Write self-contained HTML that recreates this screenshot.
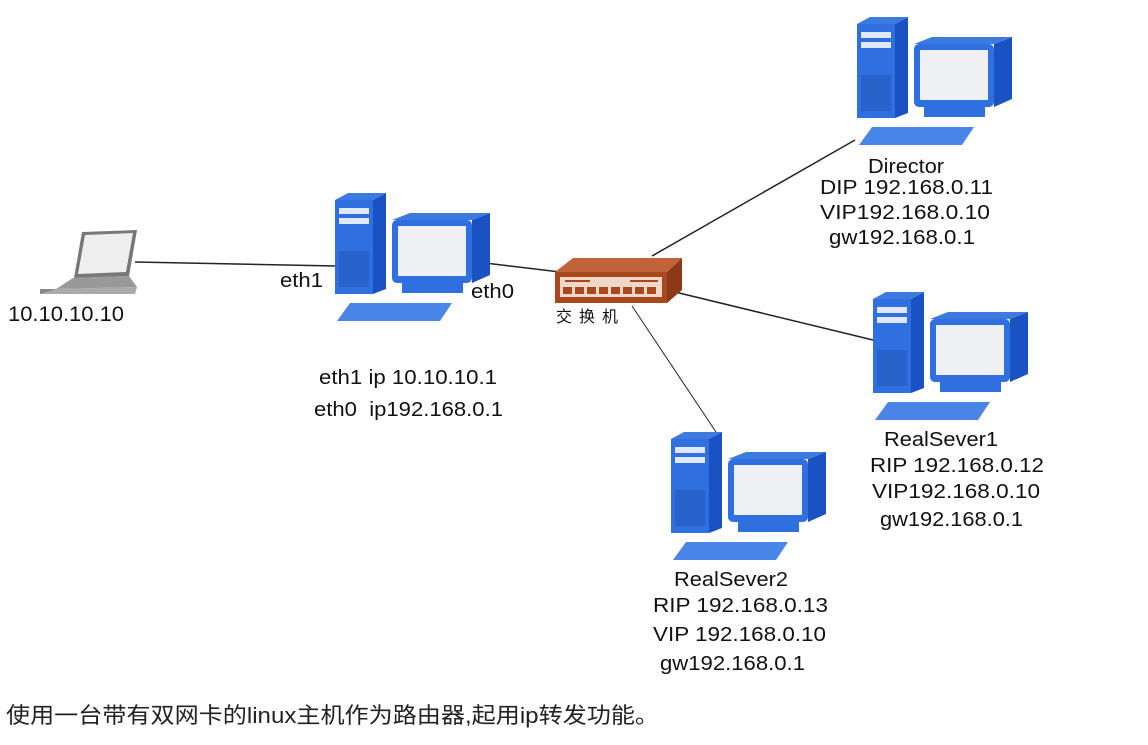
<!DOCTYPE html>
<html><head><meta charset="utf-8"><style>
body{margin:0;background:#fff;width:1148px;height:740px;overflow:hidden}
svg text{font-family:"Liberation Sans","Noto Sans CJK SC",sans-serif;font-size:20px;fill:#111}
</style></head><body>
<svg width="1148" height="740" viewBox="0 0 1148 740">
<defs>
<g id="pc">
  <polygon points="38,7 51,0 51,96 38,101" fill="#1a52c4"/>
  <polygon points="0,7 13,0 51,0 38,7" fill="#3d7ae0"/>
  <rect x="0" y="7" width="38" height="94" fill="#2f6fe0"/>
  <rect x="4" y="15" width="30" height="6" fill="#dfe8f8"/>
  <rect x="4" y="25" width="30" height="6" fill="#dfe8f8"/>
  <rect x="4" y="58" width="30" height="36" fill="#2863cc"/>
  <polygon points="137,27 155,20 155,82 137,90" fill="#1a52c4"/>
  <polygon points="57,27 75,20 155,20 137,27" fill="#3d7ae0"/>
  <rect x="57" y="27" width="80" height="63" rx="5" fill="#2f6fe0"/>
  <rect x="63" y="33" width="68" height="50" fill="#eef0f4"/>
  <rect x="67" y="90" width="61" height="10" fill="#2f6fe0"/>
  <polygon points="15,110 117,110 105,128 2,128" fill="#4a86e8"/>
</g>
</defs>
<g stroke="#222" stroke-width="1.5" fill="none">
<line x1="135" y1="262" x2="336" y2="266"/>
<line x1="485" y1="263" x2="560" y2="272"/>
<line x1="652" y1="256" x2="855" y2="140"/>
<line x1="675" y1="292" x2="873" y2="340"/>
<line x1="632" y1="306" x2="716" y2="432" stroke-width="1"/>
</g>
<polygon points="82,232 137,230 129,276 74,278" fill="#777"/>
<polygon points="85,235 133,233 126,272 78,274" fill="#eee"/>
<polygon points="73,278 129,276 137,287 56,289" fill="#999"/>
<rect x="40" y="289" width="95" height="5" fill="#888"/>
<polygon points="56,289 137,287 135,294 40,294" fill="#aaa"/>
<use href="#pc" x="335" y="193"/>
<use href="#pc" x="857" y="17"/>
<use href="#pc" x="873" y="292"/>
<use href="#pc" x="671" y="432"/>
<polygon points="555,272 573,258 682,258 667,272" fill="#c0623a"/>
<polygon points="667,272 682,258 682,290 667,303" fill="#8a3a18"/>
<rect x="555" y="272" width="112" height="31" fill="#a9481f"/>
<rect x="560" y="277" width="102" height="20" fill="#f0d8c8"/>
<rect x="565" y="280" width="25" height="2" fill="#a9481f"/>
<rect x="630" y="280" width="28" height="2" fill="#a9481f"/>
<g fill="#a9481f">
<rect x="563" y="287" width="9" height="7"/><rect x="575" y="287" width="9" height="7"/><rect x="587" y="287" width="9" height="7"/><rect x="599" y="287" width="9" height="7"/><rect x="611" y="287" width="9" height="7"/><rect x="623" y="287" width="9" height="7"/><rect x="635" y="287" width="9" height="7"/><rect x="647" y="287" width="9" height="7"/>
</g>
<text x="556" y="322" style="font-size:16px" textLength="62" lengthAdjust="spacing">交换机</text>
<text x="8" y="321" style="font-size:21px" textLength="116" lengthAdjust="spacingAndGlyphs">10.10.10.10</text>
<text x="280" y="287" textLength="43" lengthAdjust="spacingAndGlyphs">eth1</text>
<text x="471" y="298" textLength="43" lengthAdjust="spacingAndGlyphs">eth0</text>
<text x="319" y="384" textLength="178" lengthAdjust="spacingAndGlyphs">eth1 ip 10.10.10.1</text>
<text x="314" y="416" textLength="189" lengthAdjust="spacingAndGlyphs">eth0&#160; ip192.168.0.1</text>
<text x="868" y="173" textLength="76" lengthAdjust="spacingAndGlyphs">Director</text>
<text x="820" y="194" textLength="173" lengthAdjust="spacingAndGlyphs">DIP 192.168.0.11</text>
<text x="820" y="219" textLength="170" lengthAdjust="spacingAndGlyphs">VIP192.168.0.10</text>
<text x="829" y="244" textLength="146" lengthAdjust="spacingAndGlyphs">gw192.168.0.1</text>
<text x="884" y="446" textLength="114" lengthAdjust="spacingAndGlyphs">RealSever1</text>
<text x="870" y="472" textLength="174" lengthAdjust="spacingAndGlyphs">RIP 192.168.0.12</text>
<text x="872" y="498" textLength="168" lengthAdjust="spacingAndGlyphs">VIP192.168.0.10</text>
<text x="880" y="526" textLength="143" lengthAdjust="spacingAndGlyphs">gw192.168.0.1</text>
<text x="674" y="586" textLength="114" lengthAdjust="spacingAndGlyphs">RealSever2</text>
<text x="653" y="612" textLength="175" lengthAdjust="spacingAndGlyphs">RIP 192.168.0.13</text>
<text x="653" y="641" textLength="173" lengthAdjust="spacingAndGlyphs">VIP 192.168.0.10</text>
<text x="660" y="670" textLength="145" lengthAdjust="spacingAndGlyphs">gw192.168.0.1</text>
<text x="6" y="723" style="font-size:22px;fill:#222" textLength="653" lengthAdjust="spacingAndGlyphs">使用一台带有双网卡的linux主机作为路由器,起用ip转发功能。</text>
</svg>
</body></html>
